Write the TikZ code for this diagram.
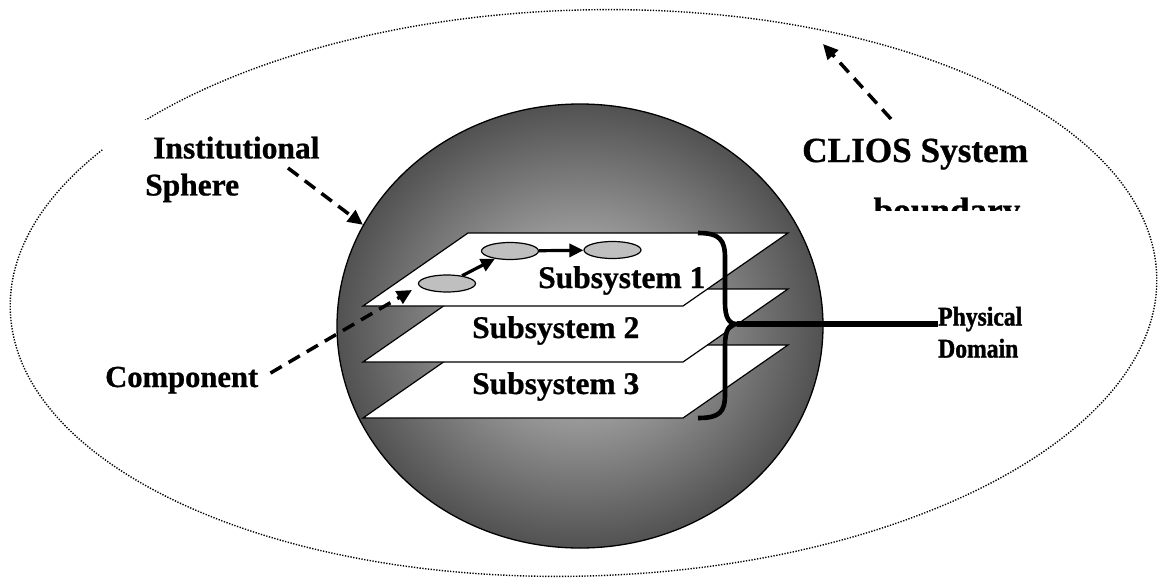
\documentclass[tikz,border=0pt]{standalone}
\usepackage{fontspec}
\setmainfont{Liberation Serif}[BoldFeatures={FakeBold=0.8}]
\newfontfamily\physfont{Liberation Serif Bold}[FakeStretch=0.875, FakeBold=1.4]
\usetikzlibrary{shapes.geometric,arrows.meta,calc}
\definecolor{compfill}{gray}{0.75}
\definecolor{sphc}{gray}{0.80}
\definecolor{sphe}{gray}{0.32}
\pgfdeclareradialshading{sphereshade}{\pgfpoint{0bp}{0bp}}{color(0bp)=(sphc); color(25bp)=(sphe); color(50bp)=(sphe)}
\begin{document}
\begin{tikzpicture}[x=1pt,y=-1pt,
  boundline/.style={draw=black, line width=1.4pt, dash pattern=on 1.3pt off 1.5pt},
  plane/.style={draw=black, line width=1.2pt, fill=white, line join=miter},
  comp/.style={ellipse, draw=black, line width=1.2pt, fill=compfill, minimum width=57pt, minimum height=17pt, inner sep=0pt},
  solidarrow/.style={line width=3.2pt, -{Triangle[length=14pt,width=13pt]}},
  dasharrow/.style={line width=3.5pt, dash pattern=on 13pt off 8pt, -{Triangle[length=15pt,width=14pt]}},
  bracestyle/.style={line width=4.6pt, line cap=butt},
  lblmid/.style={font=\bfseries\fontsize{31.5}{37}\selectfont, inner sep=0pt},
  lblbig/.style={font=\bfseries\fontsize{35.2}{60}\selectfont, inner sep=0pt},
  lblsmall/.style={font=\physfont\fontsize{27}{32}\selectfont, inner sep=0pt},
]
\useasboundingbox (0,0) rectangle (1158,583);

% outer system boundary
\node[boundline, ellipse, minimum width=1147pt, minimum height=566pt, inner sep=0pt, rotate=1.7] (bound) at (583.5,293) {};

% institutional sphere label (white box)
\node[lblmid, fill=white, inner xsep=42pt, inner ysep=16.4pt, anchor=north west, align=left] (inst) at (103,120) {\hspace*{8pt}Institutional\\Sphere};

% sphere
\node[ellipse, draw=black, line width=1.3pt, shade, shading=sphereshade, minimum width=486pt, minimum height=444pt, inner sep=0pt] (sphere) at (580,326) {};

% planes
\draw[plane] (468,345) -- (788,345) -- (683,418) -- (363,418) -- cycle;
\draw[plane] (468,289) -- (788,289) -- (683,362) -- (363,362) -- cycle;
\draw[plane] (468,233) -- (788,233) -- (683,306) -- (363,306) -- cycle;

% components
\node[comp] (e1) at (447,283.5) {};
\node[comp] (e2) at (510,251) {};
\node[comp] (e3) at (612.5,250) {};
\draw[solidarrow] (e1) -- (e2);
\draw[solidarrow] (e2) -- (e3);

% subsystem labels
\node[lblmid, anchor=base west] (s1) at (538,288) {Subsystem 1};
\node[lblmid, anchor=base west] (s2) at (472,338) {Subsystem 2};
\node[lblmid, anchor=base west] (s3) at (472,394) {Subsystem 3};

% physical domain brace
\node[lblsmall, anchor=north west, align=left] (phys) at (938,306.6) {Physical\\Domain};
\coordinate (bt) at (737,324);
\draw[bracestyle] (698,233) .. controls (720,233) and (725,240) .. (725,258) -- (725,302)
   .. controls (725,318) and (729,324) .. (bt)
   .. controls (729,324) and (725,330) .. (725,346) -- (725,394)
   .. controls (725,412) and (720,418) .. (698,418);
\draw[line width=6pt] (bt) -- (bt -| phys.west);

% component label
\node[lblmid, font=\bfseries\fontsize{30.6}{37}\selectfont, anchor=base west] (comp) at (105,387) {Component};

% CLIOS label (clipped second line)
\begin{scope}
\clip (780,118) rectangle (1060,210);
\node[lblbig, anchor=base west] (clios) at (802,162) {CLIOS System};
\node[lblbig, anchor=base] (bnd) at (947,222) {boundary};
\end{scope}

% dashed arrows
\coordinate (ctip) at (412,290);
\draw[dasharrow, shorten <=14pt] (comp.east) -- (ctip);
\coordinate (itail) at (288,168);
\draw[dasharrow] (itail) -- (sphere.155);
\coordinate (btail) at (891,119);
\coordinate (btip) at (823,44);
\draw[dasharrow] (btail) -- (btip);
\end{tikzpicture}
\end{document}
